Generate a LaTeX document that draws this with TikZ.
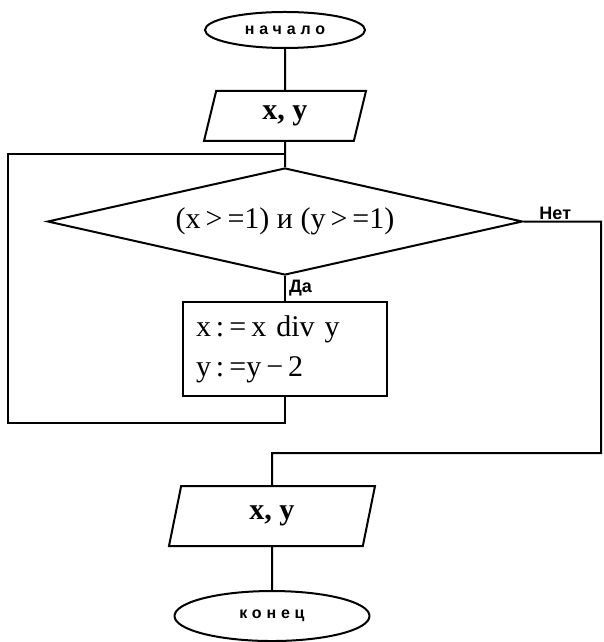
\documentclass[tikz,border=0pt]{standalone}
\usepackage{fontspec}
\setmainfont{Liberation Serif}
\newfontfamily\labelfont{Liberation Sans}
\newfontfamily\termfont[LetterSpace=30]{Liberation Sans}
\usetikzlibrary{positioning,shapes.geometric}

\begin{document}
\begin{tikzpicture}[
    x=1pt, y=1pt,
    line width=2pt,
    term/.style={draw, ellipse, minimum width=160pt, minimum height=36pt, inner sep=0pt, font=\termfont\bfseries\fontsize{16}{16}\selectfont},
    io/.style={draw, trapezium, trapezium left angle=59, trapezium right angle=121, trapezium stretches body, minimum width=162pt, minimum height=50pt, inner sep=0pt, font=\fontsize{30}{30}\selectfont\bfseries},
    cond/.style={draw, diamond, shape aspect=4.4, minimum width=475pt, minimum height=107pt, inner sep=0pt, font=\fontsize{30}{30}\selectfont},
    proc/.style={draw, rectangle, minimum width=204pt, minimum height=94pt, inner sep=0pt, text width=178pt, align=left, font=\fontsize{30}{40}\selectfont},
    lbl/.style={inner sep=0pt, font=\labelfont\bfseries\fontsize{18}{18}\selectfont},
]
\useasboundingbox (0,0) rectangle (603,642);
% Blocks
\node[term] (start) at (285,612) {начало};
\node[io, below=41pt of start] (in1) {x, y};
\node[cond, below=25pt of in1] (check) {(x\,>\,=1) и (y\,>\,=1)};
\node[proc, below=25pt of check] (body) {x\,:\,=\,x div y\\y\,:\,=y\,−\,2};
\node[io, minimum width=206pt, minimum height=60pt, below=88pt of body, xshift=-13pt] (out) {x, y};
\node[term, minimum width=195pt, minimum height=50pt, below=43pt of out] (end) {конец};
% Corners of the lines
\coordinate[below=12pt of in1.south] (join);
\coordinate[below=26pt of body.south] (lb);
\coordinate[above=32pt of out.north] (exitj);
\coordinate (lft) at (8,0);
\coordinate (rgt) at (601,0);
% Lines
\draw (start) -- (in1);
\draw (in1) -- (check);
\draw (check) -- node[lbl, anchor=west, xshift=3pt] {Да} (body);
\draw (body) -- (lb) -| (lft |- check) |- (join);
\draw (check.east) -- node[lbl, above=1pt, pos=0.41] {Нет} (check.east -| rgt) |- (exitj) -- (out);
\draw (out) -- (end);
\end{tikzpicture}
\end{document}
